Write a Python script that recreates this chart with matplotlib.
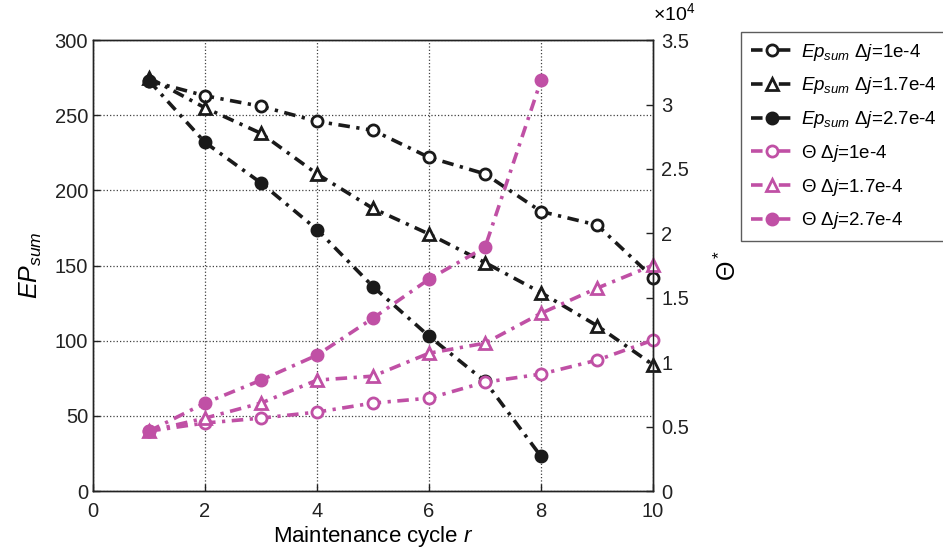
import numpy as np
import matplotlib.pyplot as plt
from matplotlib.ticker import FuncFormatter

plt.rcParams['font.family'] = ['Liberation Sans', 'DejaVu Sans']
plt.rcParams['mathtext.fontset'] = 'custom'
plt.rcParams['mathtext.rm'] = 'Liberation Sans'
plt.rcParams['mathtext.it'] = 'Liberation Sans:italic'

r10 = [1, 2, 3, 4, 5, 6, 7, 8, 9, 10]
r8 = [1, 2, 3, 4, 5, 6, 7, 8]

ep_1 = [273, 263, 256, 246, 240, 222, 211, 186, 177, 142]
ep_17 = [275, 255, 238, 211, 188, 171, 152, 132, 110, 84]
ep_27 = [273, 232, 205, 174, 136, 103, 73, 23]

theta_1 = [4650, 5280, 5660, 6130, 6830, 7210, 8450, 9080, 10160, 11720]
theta_17 = [4650, 5660, 6830, 8610, 8920, 10700, 11480, 13800, 15750, 17530]
theta_27 = [4650, 6830, 8610, 10550, 13420, 16450, 18930, 31890]

black = '#1a1a1a'
mag = '#c050a5'

fig = plt.figure(figsize=(9.43, 5.58), dpi=100)
ax = fig.add_axes([0.0986, 0.12, 0.594, 0.808])
ax2 = ax.twinx()

kw = dict(linestyle=(0, (3.2, 1.8, 0.9, 1.8)), linewidth=2.6, markersize=8, markeredgewidth=2)
h1, = ax.plot(r10, ep_1, color=black, marker='o', markerfacecolor='white', label=r'$Ep_{sum}$ $\Delta j$=1e-4', **kw)
h2, = ax.plot(r10, ep_17, color=black, marker='^', markerfacecolor='white', label=r'$Ep_{sum}$ $\Delta j$=1.7e-4', **kw)
h3, = ax.plot(r8, ep_27, color=black, marker='o', markerfacecolor=black, label=r'$Ep_{sum}$ $\Delta j$=2.7e-4', **kw)
h4, = ax2.plot(r10, theta_1, color=mag, marker='o', markerfacecolor='white', label=r'$\Theta$ $\Delta j$=1e-4', **kw)
h5, = ax2.plot(r10, theta_17, color=mag, marker='^', markerfacecolor='white', label=r'$\Theta$ $\Delta j$=1.7e-4', **kw)
h6, = ax2.plot(r8, theta_27, color=mag, marker='o', markerfacecolor=mag, label=r'$\Theta$ $\Delta j$=2.7e-4', **kw)
for h in (h1, h2, h3, h4, h5, h6):
    h.set_clip_on(False)

ax.set_xlim(0, 10)
ax.set_ylim(0, 300)
ax.set_xticks(range(0, 11, 2))
ax.set_yticks(range(0, 301, 50))
ax2.set_ylim(0, 35000)
ax2.set_yticks(np.arange(0, 35001, 5000))
ax2.yaxis.set_major_formatter(FuncFormatter(lambda v, p: '%g' % (v / 1e4)))
ax.grid(True, linestyle=':', color='#404040', linewidth=0.9)

for a in (ax, ax2):
    a.tick_params(direction='in', labelsize=14.5, length=5, width=1, colors='#222222')
    for s in a.spines.values():
        s.set_linewidth(1.0)
        s.set_color('#222222')
ax.tick_params(top=False)
ax.tick_params(axis='x', pad=8)
ax2.tick_params(axis='y', pad=6)

ax.set_xlabel('Maintenance cycle $r$', fontsize=16, labelpad=2)
ax.set_ylabel('$EP_{sum}$', fontsize=18, labelpad=8)
ax2.set_ylabel(r'$\Theta^*$', fontsize=18, labelpad=18)
ax2.text(1.0, 1.035, r'$\times 10^4$', transform=ax2.transAxes, fontsize=14,
         ha='left', va='bottom')

leg = fig.legend(handles=[h1, h2, h3, h4, h5, h6], loc='upper left',
                 bbox_to_anchor=(0.786, 0.942), fontsize=13.5, frameon=True,
                 fancybox=False, edgecolor='#333333', handlelength=2.3,
                 borderpad=0.5, labelspacing=0.68, handletextpad=0.4,
                 borderaxespad=0)
leg.get_frame().set_linewidth(1.0)

fig.savefig('out.png', dpi=100)
